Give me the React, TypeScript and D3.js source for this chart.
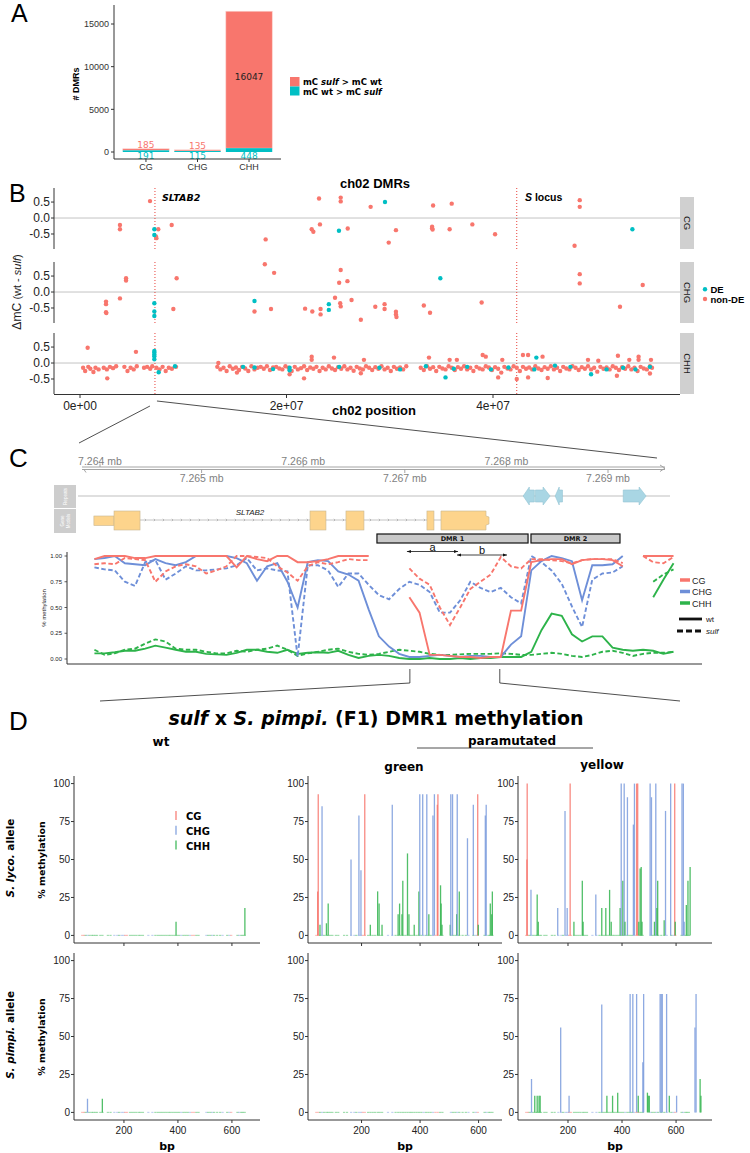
import React from "react";
import * as d3 from "d3";

// ---------------- Panel A data ----------------
const A_CONTEXTS = ["CG", "CHG", "CHH"];
const A_SULF_HIGHER = [185, 135, 16047];
const A_WT_HIGHER = [191, 115, 448];
const A_TICKS = [0, 5000, 10000, 15000];

// ---------------- Panel B data (position Mb, delta mC) ----------------
const B_CONTEXTS = ["CG", "CHG", "CHH"];
const B_X_TICKS = [0, 2e7, 4e7];
const B_X_LABELS = ["0e+00", "2e+07", "4e+07"];
const B_Y_TICKS = [-0.5, 0, 0.5];
const SLTAB2_POS = 7.26e6;
const S_LOCUS_POS = 4.23e7;

const B_CG_NONDE: [number, number][] = [
  [3.87, -0.22], [3.87, -0.35], [6.78, 0.53], [7.36, -0.58], [7.4, -0.63], [7.58, -0.35], [8.88, -0.22],
  [17.98, -0.67], [22.44, -0.35], [22.6, -0.43], [23.15, 0.61], [23.24, -0.2], [25.25, 0.64], [25.25, 0.52],
  [25.93, -0.33], [28.15, 0.35], [29.9, -0.77], [30.6, -0.38], [34.1, -0.27], [34.1, -0.32], [34.15, -0.36],
  [34.2, 0.39], [35.8, -0.35], [36.0, 0.45], [38.0, -0.2], [40.2, -0.51], [47.9, -0.87], [48.4, 0.56], [48.4, 0.35],
];
const B_CG_DE: [number, number][] = [[7.2, -0.35], [7.2, -0.53], [25.08, -0.4], [29.54, 0.5], [53.5, -0.35]];

const B_CHG_NONDE: [number, number][] = [
  [2.52, -0.3], [2.52, -0.38], [2.52, -0.63], [2.55, -0.66], [3.87, -0.2], [4.46, 0.43], [4.46, 0.36],
  [9.04, -0.53], [9.36, 0.43], [16.9, -0.61], [17.9, 0.87], [18.5, -0.53], [18.8, 0.6], [21.8, -0.52],
  [22.5, -0.61], [23.3, -0.53], [23.3, -0.7], [24.7, -0.18], [25.1, 0.29], [25.2, -0.35], [25.25, -0.45],
  [25.25, 0.69], [25.9, 0.34], [26.3, -0.25], [27.2, -0.87], [28.6, -0.46], [29.5, -0.38], [29.5, -0.53],
  [30.6, -0.62], [30.6, -0.7], [30.65, -0.78], [33.3, -0.42], [33.9, -0.65], [38.9, -0.33], [48.4, 0.56],
  [48.4, 0.27], [52.3, -0.46], [54.5, 0.22],
];
const B_CHG_DE: [number, number][] = [
  [7.2, -0.35], [7.2, -0.61], [7.2, -0.75], [16.9, -0.28], [24.1, -0.38], [24.1, -0.56], [34.9, 0.43],
];

const B_CHH_NONDE_OUT: [number, number][] = [
  [0.74, 0.48], [2.64, -0.48], [5.42, 0.35], [13.4, 0.0], [15.2, -0.3], [20.3, -0.35], [21.7, -0.48],
  [22.44, 0.1], [22.44, 0.2], [24.6, 0.17], [27.5, 0.1], [27.2, -0.32], [33.8, 0.17], [35.8, 0.1], [36.5, 0.1],
  [39.0, 0.25], [39.3, 0.2], [40.9, 0.1], [42.9, 0.25], [43.4, 0.25], [44.8, 0.2], [49.2, 0.1], [50.2, 0.07],
  [52.1, 0.23], [53.2, 0.1], [54.1, 0.2], [54.1, 0.1], [55.3, 0.1], [42.3, -0.5], [40.5, -0.45], [43.4, -0.45],
  [45.3, -0.47], [52.0, -0.4], [55.2, -0.33],
];
const B_CHH_BAND: [number, number][] = [
  [0.3, -0.15], [0.5, -0.25], [0.8, -0.12], [1.0, -0.18], [1.3, -0.28], [1.5, -0.15], [1.8, -0.2],
  [2.3, -0.15], [2.6, -0.2], [2.9, -0.12], [3.2, -0.16], [3.5, -0.1], [4.3, -0.12], [4.6, -0.25], [4.9, -0.15],
  [5.2, -0.2], [5.5, -0.1], [6.2, -0.15], [6.5, -0.12], [6.8, -0.18], [7.0, -0.1], [7.4, -0.15], [7.7, -0.2],
  [8.0, -0.12], [8.3, -0.25], [8.6, -0.15], [8.9, -0.18], [9.3, -0.12],
  [13.3, -0.12], [13.6, -0.2], [13.9, -0.15], [14.2, -0.25], [14.5, -0.1], [14.8, -0.18], [15.1, -0.14],
  [15.4, -0.22], [15.7, -0.12], [16.0, -0.17], [16.3, -0.25], [16.6, -0.1], [16.9, -0.2], [17.2, -0.15],
  [17.5, -0.12], [17.8, -0.18], [18.1, -0.1], [18.4, -0.22], [18.7, -0.14], [19.0, -0.12], [19.3, -0.17],
  [19.6, -0.2], [19.9, -0.1], [20.2, -0.15], [20.5, -0.25], [20.8, -0.12], [21.1, -0.2], [21.4, -0.16],
  [21.7, -0.1], [22.0, -0.22], [22.3, -0.14], [22.6, -0.18], [22.9, -0.12], [23.2, -0.25], [23.5, -0.15],
  [23.8, -0.2], [24.1, -0.1], [24.4, -0.17], [24.7, -0.22], [25.0, -0.13], [25.3, -0.18], [25.6, -0.1],
  [25.9, -0.2], [26.2, -0.15], [26.5, -0.24], [26.8, -0.12], [27.1, -0.17], [27.4, -0.2], [27.7, -0.1],
  [28.0, -0.15], [28.3, -0.22], [28.6, -0.13], [28.9, -0.18], [29.2, -0.1], [29.5, -0.2], [29.8, -0.15],
  [30.1, -0.25], [30.4, -0.12], [30.7, -0.18], [31.0, -0.14], [31.3, -0.2], [31.6, -0.1],
  [33.0, -0.15], [33.3, -0.22], [33.6, -0.1], [33.9, -0.18], [34.2, -0.13], [34.5, -0.25], [34.8, -0.12],
  [35.1, -0.17], [35.4, -0.2], [35.7, -0.1], [36.0, -0.15], [36.3, -0.22], [36.6, -0.13], [36.9, -0.18],
  [37.2, -0.1], [37.5, -0.2], [37.8, -0.15], [38.1, -0.25], [38.4, -0.12], [38.7, -0.17], [39.0, -0.2],
  [39.3, -0.1], [39.6, -0.14], [39.9, -0.22], [40.2, -0.13], [40.5, -0.18], [40.8, -0.3], [41.1, -0.12],
  [41.4, -0.17], [41.7, -0.2], [42.0, -0.1], [42.3, -0.15], [42.6, -0.25], [42.9, -0.12], [43.2, -0.18],
  [43.5, -0.14], [43.8, -0.2], [44.1, -0.1], [44.4, -0.17], [44.7, -0.22], [45.0, -0.13], [45.3, -0.18],
  [45.6, -0.1], [45.9, -0.2], [46.2, -0.15], [46.5, -0.25], [46.8, -0.12], [47.1, -0.17], [47.4, -0.2],
  [47.7, -0.1], [48.0, -0.15], [48.3, -0.22], [48.6, -0.13], [48.9, -0.18], [49.2, -0.1], [49.5, -0.2],
  [49.8, -0.15], [50.1, -0.27], [50.4, -0.12], [50.7, -0.18], [51.0, -0.14], [51.3, -0.2], [51.6, -0.1],
  [51.9, -0.15], [52.2, -0.22], [52.5, -0.13], [52.8, -0.18], [53.1, -0.1], [53.4, -0.2], [53.7, -0.15],
  [54.0, -0.25], [54.3, -0.12], [54.6, -0.17], [54.9, -0.2], [55.2, -0.1], [55.4, -0.15],
];
const B_CHH_DE: [number, number][] = [
  [7.2, 0.38], [7.2, 0.33], [7.2, 0.27], [7.2, 0.21], [7.2, 0.12], [7.62, -0.29], [9.2, -0.1], [15.8, -0.12],
  [16.9, -0.14], [18.7, -0.19], [20.3, -0.15], [20.3, -0.23], [25.1, -0.12], [29.0, -0.15], [31.0, -0.2],
  [33.5, -0.1], [35.4, -0.45], [36.2, -0.18], [37.5, -0.12], [39.8, -0.2], [41.5, -0.14], [44.0, -0.2],
  [44.2, 0.17], [46.0, -0.08], [47.5, -0.12], [49.5, -0.35], [51.0, -0.2], [52.6, -0.15], [53.8, -0.2], [55.2, -0.12],
];

// ---------------- Panel C data ----------------
const GENOME_TICKS = [7264000, 7265000, 7266000, 7267000, 7268000, 7269000];
const WIN_START = 7263945;
const WIN_SIZE = 100;
const CG_WT = [0.97, 1, 1, 1, 0.98, 0.98, 1, 1, 1, 1, 1, 1, 1, 1, 0.89, 1, 0.97, 0.95, 1, 1,
  0.94, 0.94, 0.95, 0.97, 1, 1, 1, 1, null, null, null, 0.6, 0.45, 0.04, 0.04, 0.03, 0.02, 0.02, 0.01, 0.02,
  0.02, 0.47, 0.47, 0.94, 0.96, 0.97, 0.97, 0.92, 0.96, 0.97, 0.97, 0.96, 0.9, null, 1, 1, 1, 1];
const CG_SULF = [0.92, 0.93, 0.92, 0.98, 0.97, 0.96, 0.75, 0.85, 0.9, 0.92, 0.9, 0.83, 0.86, 0.9, 1, 1, 0.99, 0.98, 0.9, 0.84,
  0.76, 0.9, 0.94, 0.92, 0.94, 0.97, 0.96, 0.96, null, null, null, 0.88, 0.78, 0.72, 0.5, 0.33, 0.5, 0.68, 0.75, 0.82,
  0.99, 0.9, 0.88, 0.97, 0.97, 0.96, 0.95, 0.93, 0.96, 0.97, 0.97, 0.97, 0.93, null, 1, 0.94, 0.93, 0.99];
const CHG_WT = [0.97, 0.98, 1, 0.93, 0.92, 0.91, 0.97, 0.93, 0.91, 0.94, 1, 1, 1, 1, 0.98, 0.93, 0.76, 0.9, 0.93, 0.75,
  0.5, 0.94, 0.96, 0.95, 0.85, 0.82, 0.76, 0.48, 0.22, 0.12, 0.05, 0.02, 0.02, 0.03, 0.04, 0.03, 0.02, 0.03, 0.03, 0.02,
  0.02, 0.14, 0.22, 0.86, 0.95, 1, 0.98, 0.95, 0.57, 0.91, 0.91, 0.92, 1, null, null, null, null, null];
const CHG_SULF = [0.89, 0.87, 0.86, 0.75, 0.71, 0.94, 0.96, 0.77, 0.83, 0.9, 0.86, 0.86, 0.87, 0.88, 0.91, 0.98, 0.86, 0.88, 0.86, 0.85,
  0.02, 0.91, 0.91, 0.86, 0.7, 0.83, 0.83, 0.72, 0.62, 0.58, 0.68, 0.75, 0.72, 0.65, 0.45, 0.45, 0.57, 0.75, 0.69, 0.65,
  0.69, 0.6, 0.54, 1, 0.94, 0.86, 0.73, 0.51, 0.31, 0.77, 0.83, 0.84, 0.9, null, null, null, null, null];
const CHH_WT = [0.055, 0.055, 0.065, 0.08, 0.08, 0.1, 0.13, 0.11, 0.09, 0.07, 0.07, 0.05, 0.045, 0.04, 0.06, 0.09, 0.09, 0.07, 0.06, 0.09,
  0.05, 0.06, 0.065, 0.06, 0.08, 0.04, 0.01, 0.03, 0.04, 0.03, 0.01, 0, 0, 0.01, 0, 0, 0.01, 0, 0.01, 0.01,
  0.02, 0.02, 0.02, 0.07, 0.28, 0.44, 0.42, 0.24, 0.17, 0.22, 0.22, 0.11, 0.09, 0.08, 0.09, 0.08, 0.05, 0.07];
const CHH_SULF = [0.09, 0.04, 0.055, 0.09, 0.1, 0.15, 0.19, 0.17, 0.1, 0.09, 0.09, 0.07, 0.055, 0.055, 0.08, 0.07, 0.09, 0.1, 0.13, 0.09,
  0.03, 0.055, 0.07, 0.09, 0.1, 0.07, 0.05, 0.04, 0.05, 0.07, 0.09, 0.08, 0.07, 0.05, 0.04, 0.04, 0.045, 0.05, 0.05, 0.05,
  0.055, 0.05, 0.04, 0.04, 0.05, 0.06, 0.05, 0.03, 0.02, 0.04, 0.07, 0.08, 0.06, 0.03, 0.05, 0.06, 0.06, 0.07];
const TAIL_IDX = [55, 56, 57];
const CHH_WT_TAIL = [0.6, 0.77, 0.93];
const CHH_SULF_TAIL = [0.75, 0.82, 0.87];
const C_Y_TICKS = [0, 0.25, 0.5, 0.75, 1];

const REPEATS: [number, number, number][] = [
  [7268165, 7268275, -1], [7268285, 7268430, 1], [7268480, 7268552, -1], [7269150, 7269375, 1],
];
const GENE_UTR: [number, number] = [7263940, 7264138];
const GENE_EXONS: [number, number][] = [
  [7264138, 7264394], [7266067, 7266224], [7266421, 7266598], [7267218, 7267287], [7267356, 7267829],
];
const DMRS: [string, number, number][] = [["DMR 1", 7266726, 7268213], ["DMR 2", 7268242, 7269118]];
const SUBREGIONS: [string, number, number][] = [["a", 7267021, 7267524], ["b", 7267514, 7268006]];
const DMR1_AMPLICON: [number, number] = [7267050, 7267935];

// ---------------- Panel D data (bp, % methylation, context) ----------------
type Site = [number, number, string];
const D_WT_LYCO: Site[] = [[393, 9, "CHH"], [648, 18, "CHH"]];
const D_WT_PIMPI: Site[] = [[65, 9, "CHG"], [120, 9, "CHH"]];
const D_GREEN_LYCO: Site[] = [
  [50, 29, "CG"], [52, 93, "CG"], [65, 85, "CHG"], [58, 7, "CHH"], [80, 8, "CHH"], [86, 21, "CHH"], [164, 50, "CHG"],
  [191, 79, "CHG"], [198, 43, "CHG"], [211, 93, "CG"], [230, 7, "CHH"], [255, 29, "CHH"], [260, 21, "CHH"], [270, 7, "CHH"],
  [305, 86, "CHG"], [325, 14, "CHH"], [330, 21, "CHH"], [338, 14, "CHH"], [341, 36, "CHH"], [357, 54, "CHH"], [362, 14, "CHH"],
  [380, 7, "CHH"], [396, 29, "CHH"], [399, 93, "CHG"], [409, 93, "CHG"], [423, 93, "CHG"], [430, 14, "CHH"], [444, 79, "CHG"],
  [449, 93, "CHG"], [459, 86, "CG"], [461, 93, "CG"], [470, 33, "CHH"], [472, 21, "CHH"], [475, 7, "CHH"], [503, 7, "CHH"],
  [505, 93, "CHG"], [511, 93, "CHG"], [525, 14, "CHH"], [527, 93, "CHG"], [534, 29, "CHH"], [562, 64, "CHG"], [582, 86, "CHG"],
  [597, 93, "CG"], [599, 7, "CHH"], [623, 79, "CHG"], [626, 86, "CHG"], [640, 21, "CHH"], [645, 14, "CHH"], [647, 29, "CHH"],
];
const D_GREEN_PIMPI: Site[] = [];
const D_YELLOW_LYCO: Site[] = [
  [48, 50, "CG"], [49, 100, "CG"], [63, 30, "CHG"], [86, 27, "CHH"], [90, 9, "CHH"], [162, 18, "CHG"], [189, 82, "CHG"],
  [197, 18, "CHG"], [208, 100, "CG"], [222, 9, "CHH"], [253, 36, "CHH"], [256, 9, "CHH"], [303, 27, "CHG"], [325, 18, "CHH"],
  [340, 18, "CHH"], [354, 30, "CHH"], [360, 9, "CHH"], [393, 18, "CHH"], [397, 100, "CHG"], [403, 36, "CHH"], [408, 100, "CHG"],
  [411, 9, "CHH"], [420, 91, "CHG"], [442, 73, "CHG"], [446, 100, "CHG"], [454, 100, "CG"], [458, 100, "CG"], [462, 9, "CHH"],
  [467, 44, "CHH"], [471, 45, "CHH"], [474, 9, "CHH"], [504, 100, "CHG"], [509, 91, "CHG"], [520, 9, "CHH"], [525, 100, "CHG"],
  [529, 18, "CHH"], [532, 36, "CHH"], [556, 10, "CHH"], [561, 82, "CHG"], [580, 100, "CHG"], [595, 100, "CG"], [597, 9, "CHH"],
  [622, 100, "CHG"], [627, 100, "CHG"], [630, 9, "CHG"], [638, 20, "CHH"], [644, 36, "CHH"], [652, 45, "CHH"],
];
const D_YELLOW_PIMPI: Site[] = [
  [65, 22, "CHG"], [77, 11, "CHH"], [86, 11, "CHH"], [93, 11, "CHH"], [97, 11, "CHH"], [173, 56, "CHG"], [204, 11, "CHG"],
  [325, 71, "CHG"], [344, 11, "CHH"], [365, 11, "CHH"], [384, 13, "CHH"], [430, 78, "CHG"], [440, 78, "CHG"], [454, 78, "CHG"],
  [460, 11, "CHH"], [477, 33, "CHG"], [480, 78, "CHG"], [494, 13, "CHH"], [497, 11, "CHH"], [501, 11, "CHH"], [541, 78, "CHG"],
  [545, 78, "CHG"], [549, 78, "CHG"], [565, 78, "CHG"], [575, 11, "CHH"], [602, 11, "CHG"], [670, 56, "CHG"], [674, 78, "CHG"],
  [689, 22, "CHH"], [692, 11, "CHH"],
];
const CYT_SITES: [number, string][] = [
  [45, "CG"], [52, "CG"], [58, "CHH"], [65, "CHG"], [72, "CHH"], [80, "CHH"], [86, "CHH"], [93, "CHH"], [100, "CHH"],
  [112, "CHH"], [120, "CHH"], [140, "CHH"], [150, "CHH"], [164, "CHG"], [175, "CHG"], [182, "CHH"], [191, "CHG"], [198, "CHG"],
  [204, "CG"], [211, "CG"], [222, "CHH"], [230, "CHH"], [238, "CHH"], [246, "CHH"], [255, "CHH"], [262, "CHH"], [270, "CHH"],
  [290, "CHG"], [305, "CHG"], [316, "CHH"], [325, "CHH"], [333, "CHH"], [341, "CHH"], [349, "CHH"], [357, "CHH"], [365, "CHH"],
  [372, "CHH"], [380, "CHH"], [388, "CHH"], [396, "CHH"], [404, "CHH"], [412, "CHG"], [420, "CHH"], [428, "CHH"], [436, "CHH"],
  [444, "CHG"], [452, "CG"], [460, "CG"], [468, "CHH"], [476, "CHH"], [505, "CHG"], [512, "CHH"], [520, "CHH"], [527, "CHG"],
  [534, "CHH"], [545, "CHH"], [556, "CHH"], [565, "CHG"], [582, "CHH"], [590, "CHG"], [597, "CG"], [620, "CHH"], [626, "CHG"],
  [634, "CHH"], [640, "CHH"], [647, "CHH"],
];
const D_Y_TICKS = [0, 25, 50, 75, 100];
const D_X_TICKS = [200, 400, 600];

// ---------------- Styling ----------------
const RED = "#F8766D";
const TEAL = "#00BFC4";
const C_COLORS: Record<string, string> = { CG: "#F8766D", CHG: "#6E8FD8", CHH: "#2DB34A" };
const D_COLORS: Record<string, string> = { CG: "#F8766D", CHG: "#7B9CDD", CHH: "#33B54F" };
const SANS = "'Liberation Sans', Arial, Helvetica, sans-serif";
const DJV = "'DejaVu Sans', Verdana, sans-serif";
const AX = "#333333";

const xB = d3.scaleLinear().domain([0, 2e7]).range([80, 286.5]);

function PanelA() {
  const x = d3.scaleBand<string>().domain(A_CONTEXTS).range([114, 281]).paddingInner(0.1).paddingOuter(0.17);
  const y = d3.scaleLinear().domain([0, 15000]).range([152, 24]);
  return (
    <g>
      <text x={11} y={22} fontFamily={SANS} fontSize={25}>A</text>
      {A_CONTEXTS.map((c, i) => {
        const x0 = x(c)!;
        const w = x.bandwidth();
        const wt = A_WT_HIGHER[i];
        const su = A_SULF_HIGHER[i];
        const big = su > 1000;
        return (
          <g key={c}>
            <rect x={x0} y={y(wt + su)} width={w} height={y(wt) - y(wt + su)} fill={RED} stroke="#fbd0cc" strokeWidth={0.6} />
            <rect x={x0} y={y(wt)} width={w} height={y(0) - y(wt)} fill={TEAL} />
            <text x={x0 + w / 2} y={big ? y(wt + su / 2) : y(wt + su) - 0.5} textAnchor="middle" fontSize={9}
              fontFamily={DJV} fill={big ? "#222" : RED}>{su}</text>
            <text x={x0 + w / 2} y={y(0) + 6.8} textAnchor="middle" fontSize={9} fontFamily={DJV} fill={TEAL}>{wt}</text>
            <line x1={x0 + w / 2} x2={x0 + w / 2} y1={159} y2={162} stroke={AX} />
            <text x={x0 + w / 2} y={169.5} textAnchor="middle" fontSize={9} fontFamily={SANS} fill={AX}>{c}</text>
          </g>
        );
      })}
      <line x1={114} x2={114} y1={5} y2={159} stroke={AX} />
      <line x1={114} x2={281} y1={159} y2={159} stroke={AX} />
      {A_TICKS.map((t) => (
        <g key={t}>
          <line x1={111} x2={114} y1={y(t)} y2={y(t)} stroke={AX} />
          <text x={109} y={y(t) + 3.2} textAnchor="end" fontSize={9} fontFamily={SANS} fill={AX}>{t}</text>
        </g>
      ))}
      <text transform="translate(79,84) rotate(-90)" textAnchor="middle" fontSize={9} fontWeight="bold" fontFamily={SANS}># DMRs</text>
      <rect x={290} y={77} width={9.5} height={9.5} fill={RED} />
      <rect x={290} y={86.5} width={9.5} height={9} fill={TEAL} />
      <text x={303} y={85} fontSize={8.5} fontWeight="bold" fontFamily={DJV}>mC <tspan fontStyle="italic">sulf</tspan> &gt; mC wt</text>
      <text x={303} y={94.5} fontSize={8.5} fontWeight="bold" fontFamily={DJV}>mC wt &gt; mC <tspan fontStyle="italic">sulf</tspan></text>
    </g>
  );
}

function PanelB() {
  const x = xB;
  const tops = [188, 262, 333];
  const H = 61;
  const left = 54;
  const right = 680;
  const data: [number, number][][][] = [
    [B_CG_NONDE, B_CG_DE],
    [B_CHG_NONDE, B_CHG_DE],
    [B_CHH_NONDE_OUT.concat(B_CHH_BAND), B_CHH_DE],
  ];
  return (
    <g>
      <text x={9} y={202} fontFamily={SANS} fontSize={25}>B</text>
      <text x={375} y={187.5} textAnchor="middle" fontSize={13} fontWeight="bold" fontFamily={SANS}>ch02 DMRs</text>
      {B_CONTEXTS.map((ctx, i) => {
        const top = tops[i];
        const y = d3.scaleLinear().domain([-0.97, 0.94]).range([top + H, top]);
        const [nonDE, de] = data[i];
        const stripTop = i === 0 ? top + 9 : top;
        return (
          <g key={ctx}>
            <line x1={left} x2={right} y1={y(0)} y2={y(0)} stroke="#c4c4c4" strokeWidth={1} />
            {[SLTAB2_POS, S_LOCUS_POS].map((p) => (
              <line key={p} x1={x(p)} x2={x(p)} y1={top} y2={top + H} stroke="#e8413a" strokeWidth={1} strokeDasharray="1,2" />
            ))}
            {nonDE.map((d, k) => (
              <circle key={"n" + k} cx={x(d[0] * 1e6)} cy={y(d[1])} r={2.2} fill={RED} />
            ))}
            {de.map((d, k) => (
              <circle key={"d" + k} cx={x(d[0] * 1e6)} cy={y(d[1])} r={2.2} fill={TEAL} />
            ))}
            <line x1={left} x2={left} y1={top} y2={top + H} stroke={AX} />
            {B_Y_TICKS.map((t) => (
              <g key={t}>
                <line x1={left - 3} x2={left} y1={y(t)} y2={y(t)} stroke={AX} />
                <text x={left - 4} y={y(t) + 4.2} textAnchor="end" fontSize={12} fontFamily={SANS} fill="#222">{t.toFixed(1)}</text>
              </g>
            ))}
            <rect x={right} y={stripTop} width={14} height={top + H - stripTop} fill="#d0d0d0" />
            <text transform={`translate(${right + 3.5},${(stripTop + top + H) / 2}) rotate(90)`} textAnchor="middle"
              fontSize={9.5} fontFamily={SANS} fill="#1a1a1a">{ctx}</text>
          </g>
        );
      })}
      <text x={162} y={201} fontSize={9.5} fontWeight="bold" fontStyle="italic" fontFamily={DJV}>SLTAB2</text>
      <text x={525} y={201} fontSize={10.5} fontWeight="bold" fontFamily={SANS}><tspan fontStyle="italic">S</tspan> locus</text>
      <line x1={left} x2={right} y1={394.5} y2={394.5} stroke={AX} />
      {B_X_TICKS.map((t, k) => (
        <g key={t}>
          <line x1={x(t)} x2={x(t)} y1={394.5} y2={398} stroke={AX} />
          <text x={x(t)} y={410} textAnchor="middle" fontSize={12} fontFamily={SANS} fill="#222">{B_X_LABELS[k]}</text>
        </g>
      ))}
      <text x={374} y={415} textAnchor="middle" fontSize={13} fontWeight="bold" fontFamily={SANS}>ch02 position</text>
      <text transform="translate(21,292) rotate(-90)" textAnchor="middle" fontSize={12} fontFamily={SANS} fill="#222">
        ΔmC <tspan fontSize={11}>(wt - <tspan fontStyle="italic">sulf</tspan>)</tspan>
      </text>
      <circle cx={705} cy={289.3} r={2.2} fill={TEAL} />
      <circle cx={705} cy={299} r={2.2} fill={RED} />
      <text x={710.5} y={292.6} fontSize={9.5} fontWeight="bold" fontFamily={SANS}>DE</text>
      <text x={710.5} y={302.6} fontSize={9.5} fontWeight="bold" fontFamily={SANS}>non-DE</text>
    </g>
  );
}

function PanelC() {
  const x = d3.scaleLinear().domain([7264000, 7269000]).range([100, 608]);
  const y = d3.scaleLinear().domain([0, 1]).range([659, 556]);
  const winPos = CG_WT.map((_, i) => WIN_START + WIN_SIZE * i);
  const line = d3.line<number | null>().defined((d) => d != null).x((_, i) => x(winPos[i])).y((d) => y(d as number));
  const tailLine = d3.line<number>().x((_, i) => x(winPos[TAIL_IDX[i]])).y((d) => y(d));
  const axisL = x(7263823);
  const axisR = x(7269561);
  const intronX0 = x(GENE_EXONS[0][1]);
  const intronX1 = x(GENE_EXONS[4][0]);
  const intronTicks = d3.range(intronX0 + 6, intronX1 - 2, 9);
  const series: [(number | null)[], string, boolean][] = [
    [CHH_SULF, "CHH", true], [CHH_WT, "CHH", false],
    [CHG_SULF, "CHG", true], [CHG_WT, "CHG", false],
    [CG_SULF, "CG", true], [CG_WT, "CG", false],
  ];
  const sb = xB(SLTAB2_POS);
  const amp0 = x(DMR1_AMPLICON[0]);
  const amp1 = x(DMR1_AMPLICON[1]);
  return (
    <g>
      <line x1={sb - 5} y1={406} x2={axisL - 3} y2={443} stroke="#222" strokeWidth={0.8} />
      <line x1={sb + 2} y1={401} x2={axisR - 8} y2={458} stroke="#222" strokeWidth={0.8} />
      <text x={9} y={467} fontFamily={SANS} fontSize={26}>C</text>
      <line x1={axisL} x2={axisR} y1={467} y2={467} stroke="#9a9a9a" strokeWidth={0.9} />
      <line x1={axisL} x2={axisR} y1={469.5} y2={469.5} stroke="#9a9a9a" strokeWidth={0.9} />
      <path d={`M${axisR - 5},465 L${axisR},468.2 L${axisR - 5},471.5`} fill="none" stroke="#9a9a9a" strokeWidth={0.9} />
      <path d={`M${axisL + 2},469.5 L${axisL + 4},472.5`} fill="none" stroke="#9a9a9a" strokeWidth={0.9} />
      {GENOME_TICKS.map((t, k) => {
        const upper = k % 2 === 0;
        return (
          <g key={t}>
            <line x1={x(t)} x2={x(t)} y1={upper ? 463.5 : 469.5} y2={upper ? 467 : 473} stroke="#9a9a9a" strokeWidth={0.9} />
            <text x={x(t)} y={upper ? 464.5 : 481.5} textAnchor="middle" fontSize={10.5} fontFamily={SANS} fill="#7f7f7f">
              {(t / 1e6).toFixed(3)} mb
            </text>
          </g>
        );
      })}
      <rect x={54} y={485} width={22} height={23} fill="#cdcdcd" />
      <rect x={54} y={509} width={22} height={24} fill="#cdcdcd" />
      <text transform="translate(67,496.5) rotate(-90)" textAnchor="middle" fontSize={4.5} fontFamily={SANS} fill="#fff">Repeats</text>
      <text transform="translate(64,521) rotate(-90)" textAnchor="middle" fontSize={4.5} fontFamily={SANS} fill="#fff">Gene</text>
      <text transform="translate(69.5,521) rotate(-90)" textAnchor="middle" fontSize={4.5} fontFamily={SANS} fill="#fff">Models</text>
      <line x1={78} x2={670} y1={496} y2={496} stroke="#d4d4d4" strokeWidth={1.5} />
      {REPEATS.map(([s, e, str], k) => {
        const x0 = x(s);
        const x1 = x(e);
        const hd = Math.min(7, (x1 - x0) * 0.55);
        const d = str > 0
          ? `M${x0},490 L${x1 - hd},490 L${x1 - hd},487 L${x1},496 L${x1 - hd},505 L${x1 - hd},502 L${x0},502 Z`
          : `M${x1},490 L${x0 + hd},490 L${x0 + hd},487 L${x0},496 L${x0 + hd},505 L${x0 + hd},502 L${x1},502 Z`;
        return <path key={k} d={d} fill="#a9d6e4" stroke="#93c4d4" strokeWidth={0.6} />;
      })}
      <line x1={intronX0} x2={intronX1} y1={520} y2={520} stroke="#b5b5b5" strokeWidth={0.8} />
      {intronTicks.map((t) => (
        <path key={t} d={`M${t - 1.2},518.8 L${t},520 L${t - 1.2},521.2`} fill="none" stroke="#9a9a9a" strokeWidth={0.6} />
      ))}
      <rect x={x(GENE_UTR[0])} y={516} width={x(GENE_UTR[1]) - x(GENE_UTR[0])} height={9.5} fill="#fdd48c" stroke="#c8b68f" strokeWidth={0.6} />
      {GENE_EXONS.map(([s, e], k) => {
        const x0 = x(s);
        const x1 = x(e);
        if (k === GENE_EXONS.length - 1) {
          const d = `M${x0},511 L${x1 - 3},511 L${x1 - 3},516 L${x1},517 L${x1},524 L${x1 - 3},525 L${x1 - 3},530 L${x0},530 Z`;
          return <path key={k} d={d} fill="#fdd48c" stroke="#c8b68f" strokeWidth={0.6} />;
        }
        return <rect key={k} x={x0} y={511} width={x1 - x0} height={19} fill="#fdd48c" stroke="#c8b68f" strokeWidth={0.6} />;
      })}
      <text x={250} y={515} textAnchor="middle" fontSize={8} fontStyle="italic" fontFamily={SANS} fill="#222">SLTAB2</text>
      {DMRS.map(([lab, s, e]) => (
        <g key={lab}>
          <rect x={x(s)} y={534} width={x(e) - x(s)} height={9} fill="#c9c9c9" stroke="#111" strokeWidth={1.2} />
          <text x={(x(s) + x(e)) / 2} y={541.4} textAnchor="middle" fontSize={6.5} fontWeight="bold" fontFamily={DJV} fill="#111">{lab}</text>
        </g>
      ))}
      {SUBREGIONS.map(([lab, s, e], k) => {
        const ly = k === 0 ? 551.5 : 555;
        const x0 = x(s);
        const x1 = x(e);
        return (
          <g key={lab}>
            <line x1={x0} x2={x1} y1={ly} y2={ly} stroke="#111" strokeWidth={0.8} />
            <path d={`M${x0},${ly} L${x0 + 4},${ly - 1.6} L${x0 + 4},${ly + 1.6} Z`} fill="#111" />
            <path d={`M${x1},${ly} L${x1 - 4},${ly - 1.6} L${x1 - 4},${ly + 1.6} Z`} fill="#111" />
            <text x={(x0 + x1) / 2} y={ly - 1} textAnchor="middle" fontSize={11} fontFamily={SANS} fill="#111">{lab}</text>
          </g>
        );
      })}
      {series.map(([vals, ctx, dashed], k) => (
        <path key={k} d={line(vals) || ""} fill="none" stroke={C_COLORS[ctx]} strokeWidth={1.9}
          strokeDasharray={dashed ? "4.5,2.5" : undefined} />
      ))}
      <path d={tailLine(CHH_SULF_TAIL) || ""} fill="none" stroke={C_COLORS.CHH} strokeWidth={1.9} strokeDasharray="4.5,2.5" />
      <path d={tailLine(CHH_WT_TAIL) || ""} fill="none" stroke={C_COLORS.CHH} strokeWidth={1.9} />
      <line x1={67} x2={67} y1={552} y2={664} stroke={AX} />
      <line x1={67} x2={702} y1={664} y2={664} stroke={AX} />
      {C_Y_TICKS.map((t) => (
        <g key={t}>
          <line x1={64.5} x2={67} y1={y(t)} y2={y(t)} stroke={AX} strokeWidth={0.8} />
          <text x={62} y={y(t) + 2} textAnchor="end" fontSize={6} fontFamily={SANS} fill="#222">{t.toFixed(2)}</text>
        </g>
      ))}
      <text transform="translate(46,608) rotate(-90)" textAnchor="middle" fontSize={6} fontFamily={SANS} fill="#222">% methylation</text>
      {["CG", "CHG", "CHH"].map((c, k) => (
        <g key={c}>
          <line x1={680} x2={690} y1={580 + 11.5 * k} y2={580 + 11.5 * k} stroke={C_COLORS[c]} strokeWidth={3.5} />
          <text x={692} y={583.5 + 11.5 * k} fontSize={9} fontFamily={SANS} fill="#222">{c}</text>
        </g>
      ))}
      <line x1={679} x2={702} y1={619} y2={619} stroke="#111" strokeWidth={2.8} />
      <text x={706} y={622} fontSize={8} fontFamily={SANS} fill="#222">wt</text>
      <line x1={677} x2={704} y1={631} y2={631} stroke="#111" strokeWidth={2.8} strokeDasharray="6,3" />
      <text x={706} y={634} fontSize={8} fontStyle="italic" fontFamily={SANS} fill="#222">sulf</text>
      <path d={`M${amp0},669 L${amp0},683 L100,701`} fill="none" stroke="#222" strokeWidth={0.8} />
      <path d={`M${amp1},669 L${amp1},683 L680,701`} fill="none" stroke="#222" strokeWidth={0.8} />
    </g>
  );
}

function SubPanel(props: { dom: [number, number]; range: [number, number]; top: number; sites: Site[]; labels: boolean; id: string }) {
  const { dom, range, top, sites, labels, id } = props;
  const H = 167;
  const x = d3.scaleLinear().domain(dom).range(range);
  const y = d3.scaleLinear().domain([-5, 105]).range([top + H, top]);
  const [x0, x1] = range;
  return (
    <g>
      {CYT_SITES.filter((s) => s[0] < dom[1]).map(([p, c], k) => (
        <rect key={id + "z" + k} x={x(p) - 1} y={y(0) - 0.6} width={2.2} height={1.2} fill={D_COLORS[c]} opacity={0.45} />
      ))}
      {sites.map(([p, v, c], k) => (
        <line key={id + "b" + k} x1={x(p)} x2={x(p)} y1={y(0)} y2={y(v)} stroke={D_COLORS[c]} strokeWidth={1.3} opacity={0.85} />
      ))}
      <line x1={x0} x2={x0} y1={top} y2={top + H} stroke={AX} />
      <line x1={x0} x2={x1} y1={top + H} y2={top + H} stroke={AX} />
      {D_Y_TICKS.map((t) => (
        <g key={t}>
          <line x1={x0 - 3} x2={x0} y1={y(t)} y2={y(t)} stroke={AX} />
          <text x={x0 - 4} y={y(t) + 3.6} textAnchor="end" fontSize={10} fontFamily={SANS} fill="#222">{t}</text>
        </g>
      ))}
      {D_X_TICKS.map((t) => (
        <g key={t}>
          <line x1={x(t)} x2={x(t)} y1={top + H} y2={top + H + 3} stroke={AX} />
          {labels && (
            <text x={x(t)} y={top + H + 14} textAnchor="middle" fontSize={10} fontFamily={SANS} fill="#222">{t}</text>
          )}
        </g>
      ))}
    </g>
  );
}

function PanelD() {
  const cols: { dom: [number, number]; range: [number, number]; rows: Site[][]; key: string }[] = [
    { key: "wt", dom: [15, 704], range: [74, 260], rows: [D_WT_LYCO, D_WT_PIMPI] },
    { key: "green", dom: [17, 680], range: [308, 502], rows: [D_GREEN_LYCO, D_GREEN_PIMPI] },
    { key: "yellow", dom: [15, 733], range: [518, 712], rows: [D_YELLOW_LYCO, D_YELLOW_PIMPI] },
  ];
  const tops = [776, 953];
  return (
    <g>
      <text x={9} y={730} fontFamily={SANS} fontSize={26}>D</text>
      <text x={376} y={725} textAnchor="middle" fontSize={19} fontWeight="bold" fontFamily={DJV}>
        <tspan fontStyle="italic">sulf</tspan> x <tspan fontStyle="italic">S. pimpi.</tspan> (F1) DMR1 methylation
      </text>
      <text x={161} y={746} textAnchor="middle" fontSize={12} fontWeight="bold" fontFamily={DJV}>wt</text>
      <text x={512} y={745} textAnchor="middle" fontSize={12} fontWeight="bold" fontFamily={DJV}>paramutated</text>
      <line x1={417} x2={593} y1={748} y2={748} stroke="#222" strokeWidth={0.8} />
      <text x={404} y={771} textAnchor="middle" fontSize={12} fontWeight="bold" fontFamily={DJV}>green</text>
      <text x={602} y={769} textAnchor="middle" fontSize={12} fontWeight="bold" fontFamily={DJV}>yellow</text>
      {cols.map((c) =>
        c.rows.map((sites, r) => (
          <SubPanel key={c.key + r} id={c.key + r} dom={c.dom} range={c.range} top={tops[r]} sites={sites} labels={r === 1} />
        ))
      )}
      {cols.map((c) => (
        <text key={c.key} x={(c.range[0] + c.range[1]) / 2} y={1150} textAnchor="middle" fontSize={11} fontWeight="bold" fontFamily={DJV}>bp</text>
      ))}
      {tops.map((t, r) => (
        <g key={r}>
          <text transform={`translate(44.5,${t + 84}) rotate(-90)`} textAnchor="middle" fontSize={9.5} fontWeight="bold" fontFamily={DJV}>% methylation</text>
          <text transform={`translate(14,${t + 82}) rotate(-90)`} textAnchor="middle" fontSize={10.5} fontWeight="bold" fontFamily={DJV}>
            <tspan fontStyle="italic">{r === 0 ? "S. lyco." : "S. pimpi."}</tspan> allele
          </text>
        </g>
      ))}
      {["CG", "CHG", "CHH"].map((c, k) => (
        <g key={c}>
          <line x1={176} x2={176} y1={811 + 14.8 * k} y2={820 + 14.8 * k} stroke={D_COLORS[c]} strokeWidth={1.4} opacity={0.85} />
          <text x={186} y={820 + 14.8 * k} fontSize={10} fontWeight="bold" fontFamily={DJV}>{c}</text>
        </g>
      ))}
    </g>
  );
}

export default function App() {
  return (
    <svg width={750} height={1153} viewBox="0 0 750 1153" style={{ position: "absolute", left: 0, top: 0, background: "#fff" }}>
      <rect x={0} y={0} width={750} height={1153} fill="#fff" />
      <PanelA />
      <PanelB />
      <PanelC />
      <PanelD />
    </svg>
  );
}
